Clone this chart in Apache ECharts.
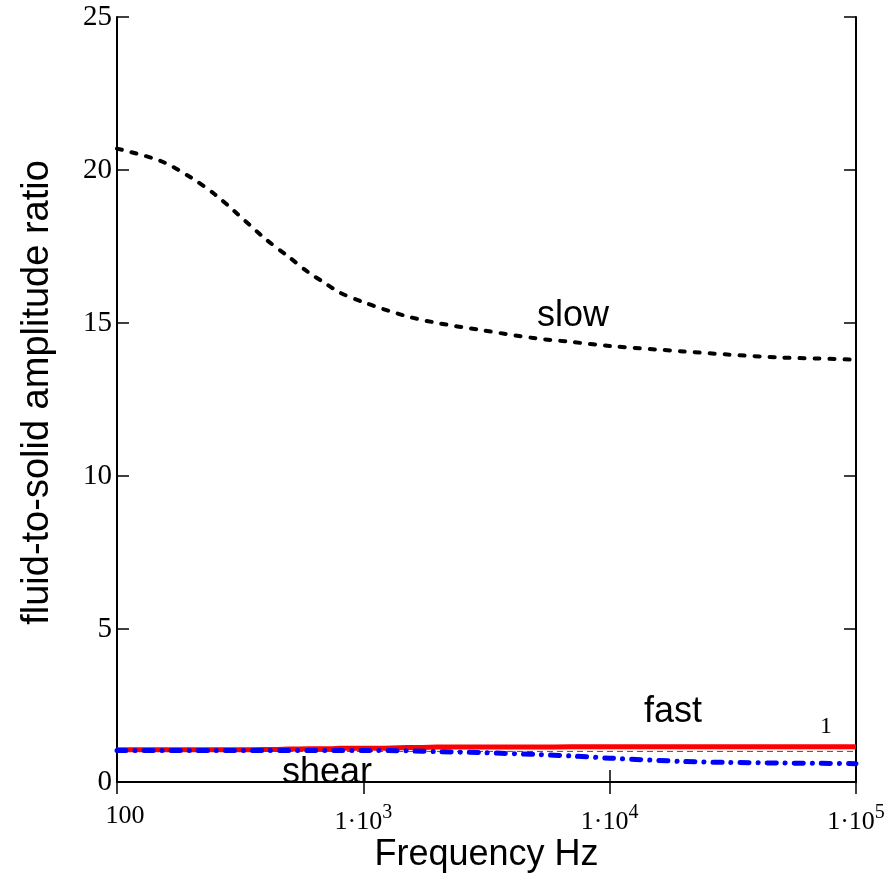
<!DOCTYPE html>
<html>
<head>
<meta charset="utf-8">
<script src="https://cdn.jsdelivr.net/npm/echarts@6/dist/echarts.min.js"></script>
<style>
html,body{margin:0;padding:0;background:#fff}
#chart{width:892px;height:874px}
</style>
</head>
<body>
<div id="chart"></div>
<script>
// frequencies (Hz) the curves were read at
var freq = [100,150,200,250,300,400,500,600,700,800,1000,1500,2000,3000,5000,7000,10000,20000,30000,50000,70000,100000];
var slow = [20.7,20.3,19.75,19.2,18.65,17.75,17.15,16.65,16.3,16.0,15.68,15.22,15.0,14.77,14.5,14.38,14.25,14.07,13.97,13.87,13.84,13.8];
var fast = [1.05,1.05,1.05,1.05,1.05,1.06,1.08,1.09,1.09,1.1,1.1,1.13,1.14,1.14,1.14,1.15,1.15,1.15,1.15,1.15,1.15,1.15];
var shear = [1.03,1.03,1.03,1.03,1.03,1.03,1.03,1.03,1.03,1.03,1.03,1.02,0.99,0.96,0.9,0.85,0.78,0.67,0.64,0.62,0.61,0.6];
var unityFreq = [100,100000];
var unity = [1,1];
var yTicks = [0,5,10,15,20,25];

function pairs(xs, ys){
	var out = [];
	for(var i=0;i<xs.length;i++){ out.push([xs[i], ys[i]]); }
	return out;
}

function freqLabel(v){
	var e = Math.round(Math.log(v)/Math.LN10);
	if(e<=2){ return '{f|' + v + '}'; }
	return '{b|1\u00b710}{s|' + e + '}';
}

var serif = '"Liberation Serif","DejaVu Serif",serif';
var sans = '"Liberation Sans",Arial,sans-serif';

var chart = echarts.init(document.getElementById('chart'));

var option = {
	animation:false,
	backgroundColor:'#fff',
	grid:{left:117,right:36,top:17,bottom:92,outerBoundsMode:'none',containLabel:false},
	xAxis:[
		{
			type:'log', logBase:10, min:100, max:100000,
			name:'Frequency Hz', nameLocation:'middle', nameGap:55, nameMoveOverlap:false,
			nameTextStyle:{fontSize:36,fontFamily:sans,color:'#000'},
			axisLine:{lineStyle:{color:'#000',width:2}},
			axisTick:{inside:true,length:12,lineStyle:{color:'#000',width:1.5}},
			minorTick:{show:false},
			splitLine:{show:false},
			axisLabel:{
				margin:21,
				formatter:freqLabel,
				rich:{
					f:{fontSize:26,fontFamily:serif,color:'#000',verticalAlign:'bottom',padding:[0,0,0,16]},
					b:{fontSize:26,fontFamily:serif,color:'#000',verticalAlign:'bottom'},
					s:{fontSize:20,fontFamily:serif,color:'#000',verticalAlign:'bottom',padding:[0,0,12,0]}
				}
			}
		},
		{
			type:'log', logBase:10, min:100, max:100000, position:'top',
			axisLine:{lineStyle:{color:'#000',width:2}},
			axisTick:{inside:true,length:12,lineStyle:{color:'#000',width:1.5}},
			axisLabel:{show:false},
			splitLine:{show:false}
		}
	],
	yAxis:[
		{
			type:'value', min:yTicks[0], max:yTicks[yTicks.length-1], interval:5,
			name:'fluid-to-solid amplitude ratio', nameLocation:'middle', nameGap:60, nameMoveOverlap:false,
			nameTextStyle:{fontSize:38,fontFamily:sans,color:'#000',padding:[0,0,0,14]},
			axisLine:{show:true,lineStyle:{color:'#000',width:2}},
			axisTick:{show:true,inside:true,length:12,lineStyle:{color:'#000',width:1.5}},
			splitLine:{show:false},
			axisLabel:{margin:5,fontSize:29,fontFamily:serif,color:'#000'}
		},
		{
			type:'value', min:yTicks[0], max:yTicks[yTicks.length-1], interval:5, position:'right',
			axisLine:{show:true,lineStyle:{color:'#000',width:2}},
			axisTick:{show:true,inside:true,length:12,lineStyle:{color:'#000',width:1.5}},
			splitLine:{show:false},
			axisLabel:{show:false}
		}
	],
	series:[
		{
			name:'slow', type:'line', showSymbol:false, smooth:0.3,
			data:pairs(freq, slow),
			lineStyle:{color:'#000',width:4,type:[5,10],cap:'round'}
		},
		{
			name:'unity', type:'line', showSymbol:false,
			data:pairs(unityFreq, unity),
			lineStyle:{color:'#ff0000',width:1,type:[6,4]}
		},
		{
			name:'fast', type:'line', showSymbol:false, step:'middle',
			data:pairs(freq, fast),
			lineStyle:{color:'#ff0000',width:5}
		},
		{
			name:'shear', type:'line', showSymbol:false, smooth:0.3,
			data:pairs(freq, shear),
			lineStyle:{color:'#0000ff',width:5,type:[9,9,0.1,9],cap:'round'}
		}
	],
	graphic:[
		{type:'text',x:573,y:316,style:{text:'slow',fontSize:36,fontFamily:sans,fill:'#000',align:'center',verticalAlign:'middle'}},
		{type:'text',x:673,y:712,style:{text:'fast',fontSize:36,fontFamily:sans,fill:'#000',align:'center',verticalAlign:'middle'}},
		{type:'text',x:327,y:773,style:{text:'shear',fontSize:36,fontFamily:sans,fill:'#000',align:'center',verticalAlign:'middle'}},
		{type:'text',x:826,y:727,style:{text:'1',fontSize:24,fontFamily:serif,fill:'#000',align:'center',verticalAlign:'middle'}}
	]
};

chart.setOption(option);
</script>
</body>
</html>
